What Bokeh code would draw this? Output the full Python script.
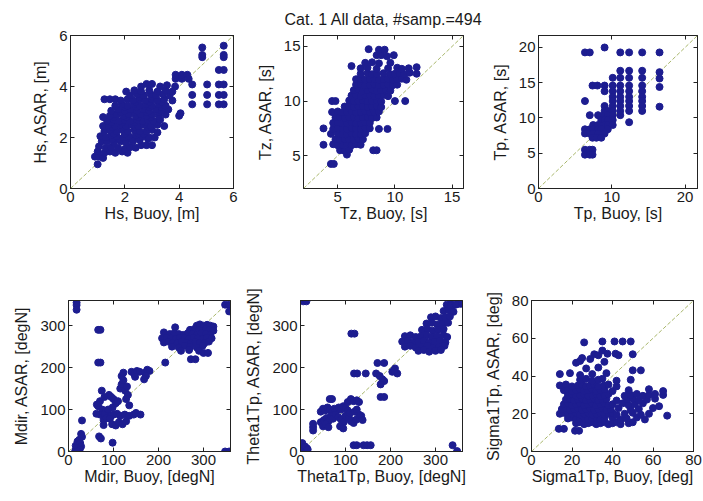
from bokeh.plotting import figure
from bokeh.layouts import row, column
from bokeh.models import FixedTicker, LinearAxis, Range1d
from bokeh.embed import file_html
from bokeh.resources import INLINE

FONT = "Liberation Sans"
DOT = "#1d1d90"
DIAG = "#a9b76c"
TXT = "#1a1a1a"

title_text = "Cat. 1 All data, #samp.=494"

# ---------------- data (buoy, asar) ----------------
hs_points = [
    (1.0, 0.95), (0.9, 1.25), (1.05, 1.25), (1.2, 1.2),
    (1.0, 1.45), (1.25, 1.4), (1.45, 1.45), (1.65, 1.4), (1.9, 1.45), (2.1, 1.4),
    (1.05, 1.65), (1.3, 1.6), (1.5, 1.62), (1.75, 1.6), (2.0, 1.55), (2.2, 1.62), (2.4, 1.6),
    (2.6, 1.7), (2.8, 1.7), (3.0, 1.7),
    (1.15, 1.85), (1.35, 1.85), (1.6, 1.8), (1.85, 1.85), (2.05, 1.8), (2.3, 1.85), (2.55, 1.9), (2.85, 1.95),
    (1.55, 1.95), (1.8, 1.95), (2.25, 1.95), (2.5, 2.0),
    (1.1, 2.05), (1.3, 2.0), (1.5, 2.1), (1.7, 2.05), (1.95, 2.0), (2.15, 2.05), (2.4, 2.1), (2.65, 2.05), (2.9, 2.0), (3.1, 2.0),
    (1.6, 2.15), (2.0, 2.15), (2.5, 2.15), (2.7, 2.15),
    (1.25, 2.25), (1.45, 2.3), (1.7, 2.25), (1.9, 2.3), (2.1, 2.25), (2.35, 2.3), (2.55, 2.25), (2.8, 2.25), (3.0, 2.3), (3.2, 2.2),
    (1.55, 2.4), (1.95, 2.4), (2.4, 2.4), (2.85, 2.4),
    (1.2, 2.45), (1.4, 2.5), (1.65, 2.45), (1.85, 2.5), (2.05, 2.45), (2.25, 2.5), (2.5, 2.45), (2.7, 2.5), (2.95, 2.45), (3.2, 2.5), (3.45, 2.45),
    (1.5, 2.6), (1.9, 2.6), (2.35, 2.6), (2.75, 2.6), (3.15, 2.6),
    (1.35, 2.65), (1.6, 2.7), (1.8, 2.65), (2.0, 2.7), (2.2, 2.65), (2.45, 2.7), (2.65, 2.65), (2.85, 2.7), (3.05, 2.65), (3.3, 2.7),
    (1.6, 2.8), (2.05, 2.8), (2.5, 2.8), (2.95, 2.8),
    (1.2, 2.8), (1.45, 2.85), (1.7, 2.9), (1.95, 2.85), (2.15, 2.9), (2.4, 2.85), (2.6, 2.9), (2.8, 2.85), (3.0, 2.9), (3.25, 2.85), (3.5, 2.9),
    (4.0, 2.85), (4.05, 2.95),
    (1.85, 3.0), (2.35, 3.0), (2.8, 3.0), (3.25, 3.0),
    (1.5, 3.05), (1.75, 3.1), (2.0, 3.05), (2.2, 3.1), (2.45, 3.05), (2.7, 3.1), (2.9, 3.05), (3.15, 3.1), (3.35, 3.05), (3.6, 3.1),
    (2.0, 3.2), (2.45, 3.2), (2.9, 3.2), (3.35, 3.2),
    (1.65, 3.25), (1.9, 3.3), (2.1, 3.25), (2.35, 3.3), (2.55, 3.25), (2.8, 3.3), (3.0, 3.25), (3.25, 3.3), (3.5, 3.25),
    (2.4, 3.4), (2.9, 3.4), (3.35, 3.4),
    (1.25, 3.5), (1.45, 3.5), (1.65, 3.5), (1.85, 3.45), (2.1, 3.5), (2.3, 3.45), (2.55, 3.5), (2.75, 3.45), (3.0, 3.5), (3.2, 3.45), (3.45, 3.5), (3.75, 3.45),
    (2.55, 3.6), (3.0, 3.6),
    (2.2, 3.65), (2.45, 3.7), (2.7, 3.65), (2.95, 3.7), (3.15, 3.65), (3.4, 3.7), (3.65, 3.65),
    (2.05, 3.8), (2.35, 3.85), (2.6, 3.8), (2.9, 3.85), (3.2, 3.8), (3.5, 3.85), (3.75, 3.8),
    (2.6, 4.0), (2.8, 4.1), (3.0, 4.1), (3.3, 4.0), (3.55, 4.05), (3.85, 4.0),
    (3.87, 4.3), (3.87, 4.46), (4.1, 4.3), (4.1, 4.46), (4.3, 4.46), (4.35, 4.3),
    (4.48, 3.3), (4.48, 3.67), (4.48, 4.08),
    (4.85, 5.15), (4.85, 5.24), (4.85, 5.53),
    (5.03, 3.3), (5.03, 3.67), (5.03, 4.08),
    (5.46, 3.3), (5.46, 3.67), (5.46, 4.08), (5.46, 4.65),
    (5.64, 3.3), (5.64, 3.67), (5.64, 4.08), (5.64, 4.65), (5.64, 5.15), (5.64, 5.24), (5.64, 5.6),
]

tz_points = [
    (4.4, 4.25), (4.65, 4.25), (5.8, 5.1),
    (5.2, 5.5), (5.6, 5.45), (6.0, 5.55), (8.1, 5.5), (8.4, 5.5),
    (3.75, 6.0), (4.6, 6.05), (5.0, 5.95), (5.4, 6.0), (5.8, 6.1), (6.2, 5.95), (6.6, 6.05), (7.0, 6.0),
    (4.8, 6.5), (5.2, 6.45), (5.6, 6.55), (6.0, 6.5), (6.4, 6.45), (6.8, 6.55), (7.2, 6.5),
    (4.4, 7.0), (5.0, 7.05), (5.4, 6.95), (5.8, 7.0), (6.2, 7.05), (6.6, 6.95), (7.0, 7.0), (7.4, 7.05),
    (3.75, 7.5), (4.6, 7.45), (5.0, 7.55), (5.4, 7.5), (5.8, 7.45), (6.2, 7.55), (6.6, 7.5), (7.0, 7.45), (7.4, 7.55), (7.8, 7.5), (8.6, 7.45), (9.35, 7.45),
    (4.6, 8.0), (5.0, 8.05), (5.4, 7.95), (5.8, 8.0), (6.2, 8.05), (6.6, 7.95), (7.0, 8.0), (7.4, 8.05), (7.8, 8.0),
    (4.8, 8.5), (5.2, 8.55), (5.6, 8.45), (6.0, 8.5), (6.4, 8.55), (6.8, 8.45), (7.2, 8.5), (7.6, 8.55), (8.0, 8.45), (8.4, 8.5),
    (4.5, 9.0), (5.0, 9.05), (5.4, 8.95), (5.8, 9.0), (6.2, 9.05), (6.6, 8.95), (7.0, 9.0), (7.4, 9.05), (7.8, 8.95), (8.2, 9.0), (8.6, 9.05),
    (5.6, 9.5), (6.0, 9.55), (6.4, 9.45), (6.8, 9.5), (7.2, 9.55), (7.6, 9.45), (8.0, 9.5), (8.4, 9.55), (8.8, 9.45),
    (4.5, 10.0), (4.8, 10.0), (6.0, 10.05), (6.4, 9.95), (6.8, 10.0), (7.2, 10.05), (7.6, 9.95), (8.0, 10.0), (8.4, 10.05), (8.8, 9.95), (10.0, 10.0), (10.9, 10.0),
    (6.2, 10.5), (6.6, 10.55), (7.0, 10.45), (7.4, 10.5), (7.8, 10.55), (8.2, 10.45), (8.6, 10.5), (9.0, 10.55), (9.4, 10.45),
    (6.4, 11.0), (6.8, 11.05), (7.2, 10.95), (7.6, 11.0), (8.0, 11.05), (8.4, 10.95), (8.8, 11.0), (9.2, 11.05), (9.6, 10.95),
    (6.6, 11.5), (7.0, 11.55), (7.4, 11.45), (7.8, 11.5), (8.2, 11.55), (8.6, 11.45), (9.0, 11.5), (9.4, 11.55), (9.8, 11.45), (10.2, 11.5),
    (6.6, 12.0), (7.0, 12.05), (7.4, 11.95), (7.8, 12.0), (8.2, 12.05), (8.6, 11.95), (9.0, 12.0), (9.4, 12.05), (9.8, 11.95), (10.2, 12.0), (10.6, 12.05), (11.0, 11.95),
    (7.0, 12.5), (7.6, 12.55), (8.0, 12.45), (8.4, 12.5), (9.0, 12.55), (9.6, 12.45), (10.0, 12.5), (10.4, 12.55), (10.8, 12.45), (11.3, 12.6), (11.9, 12.5),
    (6.2, 13.2), (7.0, 13.0), (7.6, 13.05), (8.4, 12.95), (9.4, 13.0), (10.2, 13.05), (10.6, 12.95), (11.2, 13.0), (11.9, 13.1),
    (7.4, 13.5), (8.0, 13.55), (8.6, 13.45), (9.6, 13.5),
    (8.4, 14.2), (8.8, 14.2), (9.3, 14.1), (9.9, 14.2),
    (7.7, 14.75), (8.6, 14.7), (9.1, 14.7),
]

tp_points = [
    (6.34, 19.3), (7.0, 19.3), (9.02, 20.0), (11.16, 19.3), (12.37, 19.3), (14.15, 19.3), (16.52, 19.3),
    (11.16, 16.7), (12.37, 16.7), (14.15, 16.7), (16.52, 16.5),
    (10.13, 15.7), (11.16, 15.7), (12.37, 15.7), (14.15, 15.7), (16.52, 15.6),
    (7.37, 14.6), (8.04, 14.6), (9.02, 14.6), (10.13, 14.6), (11.16, 14.6), (12.37, 14.6), (14.15, 14.6), (16.52, 14.4),
    (9.02, 13.8), (10.13, 13.8), (11.16, 13.8), (12.37, 13.8), (14.15, 13.8),
    (10.13, 13.0), (11.16, 13.0), (12.37, 13.0), (14.15, 13.0),
    (6.34, 12.4), (10.13, 12.4), (11.16, 12.4), (12.37, 12.4), (14.15, 12.4),
    (9.02, 11.7), (10.13, 11.7), (11.16, 11.7), (12.37, 11.7), (14.15, 11.7), (16.52, 11.6),
    (9.02, 11.0), (9.46, 11.0), (10.13, 11.0), (11.16, 11.0), (12.37, 11.0), (14.15, 11.0),
    (7.0, 10.4), (8.13, 10.4), (9.02, 10.4), (9.46, 10.4), (10.13, 10.4), (11.16, 10.4),
    (8.57, 9.7), (9.02, 9.7), (9.46, 9.7), (10.13, 9.7),
    (12.37, 9.4),
    (7.46, 9.0), (8.13, 9.0), (9.02, 9.0), (9.46, 9.0), (10.13, 9.0),
    (6.34, 8.4), (7.0, 8.4), (7.46, 8.4), (8.13, 8.4), (8.57, 8.4), (9.46, 8.4),
    (6.34, 7.8), (7.0, 7.8), (7.46, 7.8), (8.13, 7.8), (9.02, 7.8),
    (7.37, 7.2), (7.9, 7.2), (8.57, 7.2),
    (6.34, 5.5), (7.0, 5.5), (7.37, 5.5),
    (6.34, 4.8), (7.0, 4.8), (7.37, 4.8),
]

mdir_points = [
    (18, 355), (18, 349), (18, 338),
    (348, 350), (357, 350), (357, 334),
    (348, 0), (357, 0),
    (15, 2), (18, 6), (20, 10), (16, 14), (22, 18), (20, 24), (24, 28), (26, 20), (28, 12), (25, 5), (19, 0), (30, 35), (28, 42), (30, 74),
    (68, 36), (72, 31), (98, 21), (78, 63),
    (63, 112), (70, 120), (66, 108), (75, 100), (82, 95), (88, 88), (95, 85), (70, 88), (62, 90), (80, 88), (100, 88), (108, 90),
    (115, 85), (125, 88), (135, 85), (145, 88), (150, 92), (160, 88),
    (90, 135), (95, 130), (100, 125), (105, 115), (110, 120), (98, 105), (88, 100), (78, 75), (84, 80), (92, 78), (97, 65), (105, 62),
    (112, 70), (120, 65), (128, 72), (74, 145), (80, 130),
    (115, 150), (118, 160), (122, 170), (118, 180), (122, 188), (126, 145), (130, 155), (132, 135), (128, 125), (135, 110),
    (140, 190), (146, 185), (152, 192), (158, 190), (148, 178),
    (170, 188), (175, 195), (180, 192), (172, 180), (168, 172),
    (66, 290), (71, 290), (66, 212), (71, 212),
    (212, 284), (215, 212),
    (285, 300), (292, 303), (300, 300), (308, 302), (315, 300), (322, 298),
    (237, 296), (270, 290), (280, 292), (290, 290), (298, 288), (306, 292), (314, 290), (322, 288),
    (225, 280), (235, 282), (245, 280), (255, 278), (265, 282), (275, 280), (285, 278), (295, 282), (305, 280), (315, 278),
    (208, 270), (218, 272), (228, 270), (238, 268), (248, 272), (258, 270), (268, 268), (278, 272), (288, 270), (298, 268), (308, 272), (318, 270),
    (212, 260), (222, 262), (232, 260), (242, 258), (252, 262), (262, 260), (272, 258), (282, 262), (292, 260), (302, 258), (312, 262),
    (230, 250), (245, 248), (258, 252), (270, 250), (285, 248), (298, 252),
    (250, 240), (268, 242), (290, 240),
    (300, 235), (310, 235),
    (272, 220), (282, 220),
]

theta_points = [
    (6, 358), (13, 358),
    (334, 352), (350, 352), (356, 352), (334, 340),
    (338, 15), (348, 1),
    (0, 15), (4, 20), (8, 4), (14, 8), (2, 2), (10, 12), (16, 5),
    (113, 281), (120, 281),
    (118, 15), (125, 15), (140, 15), (148, 15), (156, 15),
    (119, 186), (126, 186), (145, 186),
    (171, 211), (186, 211),
    (168, 186), (176, 180), (182, 172), (186, 168), (178, 160),
    (178, 130), (186, 130),
    (204, 190), (210, 198), (215, 186), (208, 194),
    (28, 50), (28, 58), (28, 66),
    (45, 95), (50, 102), (55, 98), (60, 105), (65, 100), (70, 95), (75, 102), (80, 98), (85, 105), (90, 100), (95, 108), (100, 104), (105, 98),
    (45, 70), (52, 75), (58, 80), (62, 72), (68, 85), (72, 78), (78, 88), (84, 82), (90, 76), (96, 70), (100, 85), (108, 80), (112, 72), (118, 68), (124, 76),
    (50, 60), (56, 65), (62, 58), (88, 60), (95, 55),
    (65, 125), (70, 125), (105, 118), (112, 125), (118, 120), (125, 122), (130, 118),
    (135, 85), (138, 75), (130, 88), (110, 92), (120, 95), (125, 100),
    (325, 350), (335, 348), (345, 350),
    (318, 335), (330, 337), (340, 333),
    (290, 320), (300, 322), (312, 318), (322, 320), (332, 322),
    (280, 305), (292, 307), (304, 303), (316, 305), (328, 307),
    (270, 290), (282, 292), (294, 288), (306, 290), (318, 292),
    (232, 275), (244, 277), (256, 273), (268, 275), (280, 277), (292, 273), (304, 275), (318, 277), (326, 273),
    (226, 262), (238, 264), (250, 260), (262, 262), (274, 264), (286, 260), (298, 262), (310, 264), (322, 260),
    (232, 250), (244, 252), (256, 248), (270, 250), (282, 252), (296, 248), (308, 250), (320, 252),
    (262, 240), (274, 242), (286, 238), (300, 240), (312, 242),
]

sigma_points = [
    (13.5, 12), (16, 12), (21.5, 11), (23.5, 11),
    (22, 15), (24, 15.5), (26, 14.5), (28, 15), (30, 15.5), (32, 14.5), (34, 15), (36, 15.5), (38, 14.5), (40, 15), (42, 15.5), (44, 14.5), (48, 15), (50, 15.5),
    (18, 17.5), (20, 18), (22, 17), (24, 17.5), (26, 18), (28, 17), (30, 17.5), (32, 18), (34, 17), (36, 17.5), (40, 18), (44, 17), (47, 17.5), (52, 18), (56, 17),
    (14, 20), (16, 20.5), (18, 19.5), (20, 20), (22, 20.5), (24, 19.5), (26, 20), (28, 20.5), (30, 19.5), (32, 20), (34, 20.5), (36, 19.5), (38, 20), (40, 20.5),
    (42, 19.5), (46, 20), (50, 20.5), (54, 19.5), (58, 20), (67, 19),
    (15, 22.5), (17, 23), (19, 22), (21, 22.5), (23, 23), (25, 22), (27, 22.5), (29, 23), (31, 22), (33, 22.5), (35, 23), (37, 22), (39, 22.5), (43, 23),
    (49, 22), (53, 22.5), (60, 23), (63, 24),
    (16, 25), (18, 25.5), (20, 24.5), (22, 25), (24, 25.5), (26, 24.5), (28, 25), (30, 25.5), (32, 24.5), (34, 25), (36, 25.5), (38, 24.5), (40, 25),
    (45, 25.5), (48, 24.5), (51, 25), (55, 25.5),
    (17, 27.5), (19, 28), (21, 27), (23, 27.5), (25, 28), (27, 27), (29, 27.5), (31, 28), (33, 27), (35, 27.5), (37, 28), (42, 27), (47, 27.5), (50, 28),
    (53, 27), (57, 27.5), (61, 28),
    (18, 30), (20, 30.5), (22, 29.5), (24, 30), (26, 30.5), (28, 29.5), (30, 30), (32, 30.5), (34, 29.5), (36, 30), (38, 30.5), (46, 29.5), (49, 30),
    (52, 30.5), (55, 29.5), (58, 30), (61, 30.5), (65, 30),
    (16, 32.5), (18, 33), (20, 32), (22, 32.5), (24, 33), (26, 32), (28, 32.5), (30, 33), (32, 32), (34, 32.5), (36, 33), (40, 32), (48, 32.5), (58, 33), (65, 32),
    (14, 35), (17, 35.5), (20, 34.5), (23, 35), (25, 35.5), (27, 34.5), (29, 35), (31, 35.5), (33, 34.5), (36, 35), (38, 35.5), (42, 34.5),
    (24, 38), (27, 38.5), (30, 37.5), (33, 38), (35, 38.5), (42, 37.5), (49, 38),
    (14, 41), (19, 41.5), (24, 40.5), (30, 41), (37, 41.5), (50, 43), (54, 43),
    (27, 44), (33, 44.5),
    (22, 47), (24, 48), (36, 47.5),
    (25, 49.5), (29, 49), (31, 51.5), (33, 51), (37.5, 51.8), (41.5, 51.8), (43, 51), (50, 51.5),
    (35, 53.5),
    (26, 57.8), (35, 58.3), (41, 58.3), (45, 58.3), (49, 58.3),
]


def make_panel(points, lo, hi, ticks_x, ticks_y, xlabel, ylabel,
               w, h, bl, br, bt, bb, title=None):
    xs = [pt[0] for pt in points]
    ys = [pt[1] for pt in points]
    p = figure(width=w, height=h, output_backend="svg", toolbar_location=None,
               x_range=Range1d(lo, hi), y_range=Range1d(lo, hi),
               min_border_left=bl, min_border_right=br,
               min_border_top=bt, min_border_bottom=bb)
    p.grid.visible = False
    p.background_fill_color = "white"
    p.border_fill_color = "white"
    p.outline_line_color = "#222222"
    p.outline_line_width = 1
    if title:
        p.title.text = title
        p.title.align = "center"
        p.title.text_font = FONT
        p.title.text_font_size = "16px"
        p.title.text_font_style = "normal"
        p.title.text_color = TXT
        p.title.standoff = 16

    # x = y reference line across the axis range
    p.line([lo, hi], [lo, hi], line_color=DIAG, line_width=1, line_dash="4 2")
    p.scatter(xs, ys, size=7, fill_color=DOT, line_color=DOT, line_width=1)

    for ax, ticks, is_x in ((p.xaxis[0], ticks_x, True), (p.yaxis[0], ticks_y, False)):
        ax.ticker = FixedTicker(ticks=ticks)
        ax.major_tick_in = 4
        ax.major_tick_out = 0
        ax.minor_tick_line_color = None
        ax.axis_line_color = "#222222"
        ax.major_tick_line_color = "#222222"
        ax.major_label_text_font = FONT
        ax.major_label_text_font_size = "15px"
        ax.major_label_text_color = TXT
        ax.major_label_standoff = 3
        ax.axis_label = xlabel if is_x else ylabel
        ax.axis_label_text_font = FONT
        ax.axis_label_text_font_size = "16px"
        ax.axis_label_text_font_style = "normal"
        ax.axis_label_text_color = TXT
        ax.axis_label_standoff = 0 if is_x else 7

    # tick marks on the top and right edges (box on), no labels
    for side, ticks in (("above", ticks_x), ("right", ticks_y)):
        ax = LinearAxis(ticker=FixedTicker(ticks=ticks))
        ax.major_tick_in = 4
        ax.major_tick_out = 0
        ax.minor_tick_line_color = None
        ax.axis_line_color = "#222222"
        ax.major_tick_line_color = "#222222"
        ax.major_label_text_font_size = "1px"
        ax.major_label_text_color = None
        ax.major_label_standoff = 0
        p.add_layout(ax, side)
    return p


f1 = make_panel(hs_points, 0, 6, [0, 2, 4, 6], [0, 2, 4, 6],
                "Hs, Buoy, [m]", "Hs, ASAR, [m]", 243, 262, 70, 10, 29, 74)
f2 = make_panel(tz_points, 2, 16, [5, 10, 15], [5, 10, 15],
                "Tz, Buoy, [s]", "Tz, ASAR, [s]", 245, 262, 60, 25, 32, 72, title=title_text)
f3 = make_panel(tp_points, 0, 21.7, [0, 10, 20], [0, 5, 10, 15, 20],
                "Tp, Buoy, [s]", "Tp, ASAR, [s]", 215, 262, 48, 6, 34, 69)
f4 = make_panel(mdir_points, 0, 360, [0, 100, 200, 300], [0, 100, 200, 300],
                "Mdir, Buoy, [degN]", "Mdir, ASAR, [degN]", 240, 239, 68, 10, 31, 50)
f5 = make_panel(theta_points, 0, 360, [0, 100, 200, 300], [0, 100, 200, 300],
                "Theta1Tp, Buoy, [degN]", "Theta1Tp, ASAR, [degN]", 231, 239, 60, 9, 33, 47)
f6 = make_panel(sigma_points, 0, 80, [0, 20, 40, 60, 80], [0, 20, 40, 60, 80],
                "Sigma1Tp, Buoy, [deg]", "Sigma1Tp, ASAR, [deg]", 232, 239, 60, 10, 38, 45)

layout = column(row(f1, f2, f3), row(f4, f5, f6))
open("out.html", "w").write(file_html(layout, INLINE))
